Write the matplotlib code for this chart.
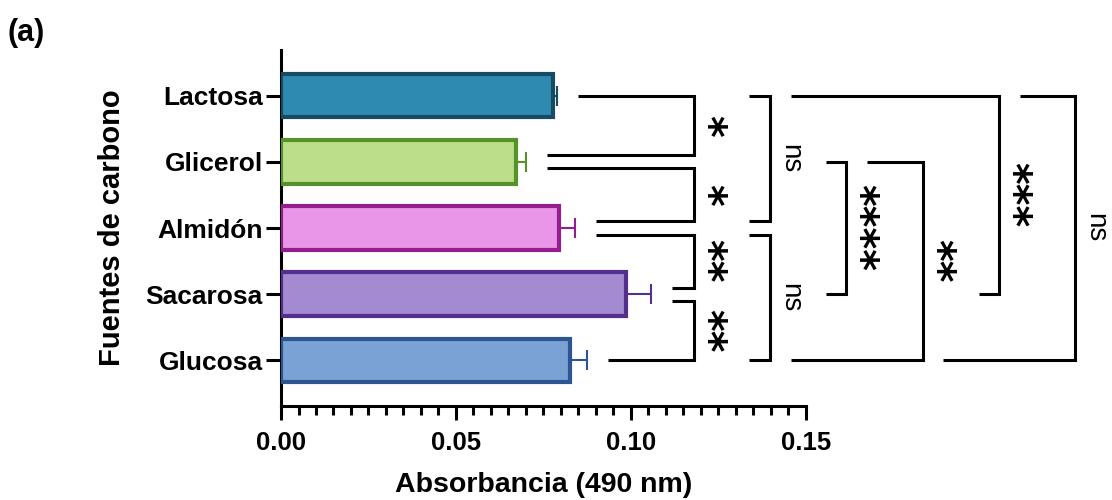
import matplotlib
matplotlib.use("Agg")
import matplotlib.pyplot as plt
from matplotlib.ticker import MultipleLocator, FormatStrFormatter

plt.rcParams["font.family"] = ["Liberation Sans", "DejaVu Sans"]

# Absorbance at 490 nm per carbon source (mean and upper SD)
sources = ["Lactosa", "Glicerol", "Almidón", "Sacarosa", "Glucosa"]
absorbance = [0.0778, 0.0672, 0.0794, 0.0985, 0.0827]
sd = [0.0012, 0.0027, 0.0047, 0.0073, 0.0047]
fill_colors = ["#2E8AB0", "#BCDE8A", "#E996E8", "#A38AD1", "#7BA2D5"]
edge_colors = ["#174A63", "#55922A", "#951E8E", "#532F8E", "#2C5591"]

# Multiple comparisons: (index a, index b, label)
comparisons = [
    (0, 1, "*"), (1, 2, "*"), (2, 3, "**"), (3, 4, "**"),
    (0, 2, "ns"), (2, 4, "ns"),
    (1, 3, "****"), (1, 4, "**"), (0, 3, "***"), (0, 4, "ns"),
]

# bracket layout: x of the vertical stroke, x where each arm starts
# (None -> start just after the error bar), y shift of each arm
GAP = 0.006
OFF = 0.1
bracket_layout = [
    (0.1180, None, None, 0.0, -OFF),
    (0.1180, None, None, OFF, -OFF),
    (0.1180, None, None, OFF, -OFF),
    (0.1180, None, None, OFF, 0.0),
    (0.1397, 0.1337, 0.1337, 0.0, -OFF),
    (0.1397, 0.1337, 0.1337, OFF, 0.0),
    (0.1614, 0.1557, 0.1557, 0.0, 0.0),
    (0.1834, 0.1674, 0.1457, 0.0, 0.0),
    (0.2051, 0.1457, 0.1994, 0.0, 0.0),
    (0.2269, 0.2111, 0.1891, 0.0, 0.0),
]

fig = plt.figure(figsize=(11.12, 5.0), dpi=100)
ax = fig.add_axes([0.2527, 0.188, 0.4721, 0.712])

ypos = list(range(len(sources)))
ax.barh(ypos, absorbance, height=0.66, color=fill_colors,
        edgecolor=edge_colors, linewidth=3, zorder=3)
for y, v, e, c in zip(ypos, absorbance, sd, edge_colors):
    ax.errorbar(v, y, xerr=[[0], [e]], fmt="none", ecolor=c,
                elinewidth=1.5, capsize=7.5, capthick=1.5, zorder=2)

ax.set_xlim(0, 0.15)
ax.set_ylim(4.69, -0.69)
ax.set_yticks(ypos)
ax.set_yticklabels(sources, fontsize=19, fontweight="bold")
ax.xaxis.set_major_locator(MultipleLocator(0.05))
ax.xaxis.set_minor_locator(MultipleLocator(0.005))
ax.xaxis.set_major_formatter(FormatStrFormatter("%.2f"))
for lab in ax.get_xticklabels():
    lab.set_fontsize(18.5)
    lab.set_fontweight("bold")

for s in ["top", "right"]:
    ax.spines[s].set_visible(False)
for s in ["left", "bottom"]:
    ax.spines[s].set_linewidth(2.2)
ax.tick_params(axis="y", length=11, width=2.2, pad=2)
ax.tick_params(axis="x", which="major", length=10, width=2.2, pad=8)
ax.tick_params(axis="x", which="minor", length=6.5, width=2.2)

ax.set_xlabel("Absorbancia (490 nm)", fontsize=20.5, fontweight="bold", labelpad=12)
ax.set_ylabel("Fuentes de carbono", fontsize=21, fontweight="bold", labelpad=14)

# significance brackets
for (a, b, label), (xv, xa, xb, da, db) in zip(comparisons, bracket_layout):
    if xa is None:
        xa = absorbance[a] + sd[a] + GAP
    if xb is None:
        xb = absorbance[b] + sd[b] + GAP
    ya, yb = a + da, b + db
    ax.plot([xa, xv, xv, xb], [ya, ya, yb, yb], color="black", lw=2.2,
            solid_joinstyle="miter", solid_capstyle="butt", clip_on=False)
    ym = (ya + yb) / 2
    if label == "ns":
        ax.text(xv + 0.0057, ym, label, rotation=-90, ha="center", va="center",
                fontsize=20, clip_on=False)
    else:
        ax.text(xv + 0.0034, ym, label, rotation=-90, ha="center", va="center",
                fontsize=30, fontweight="bold", family="DejaVu Sans",
                clip_on=False)

fig.text(0.007, 0.965, "(a)", fontsize=22, fontweight="bold", va="top", ha="left")

fig.savefig("out.png", dpi=100)
